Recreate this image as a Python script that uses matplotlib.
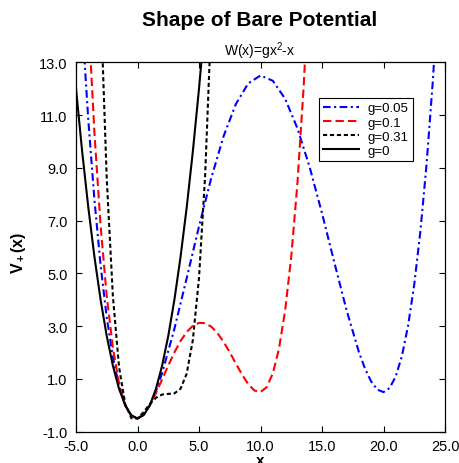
import matplotlib
matplotlib.use("Agg")
import matplotlib.pyplot as plt

plt.rcParams['font.family'] = ['Liberation Sans', 'DejaVu Sans']
plt.rcParams['mathtext.fontset'] = 'custom'
plt.rcParams['mathtext.rm'] = 'Liberation Sans'
plt.rcParams['mathtext.bf'] = 'Liberation Sans:bold'
plt.rcParams['mathtext.it'] = 'Liberation Sans:italic'
plt.rcParams['lines.scale_dashes'] = False

# ---- data ----
x_g005 = [-4.5, -4, -3.5, -3, -2.5, -2, -1.5, -1, -0.5, 0, 0.5, 1, 1.5, 2, 3, 4, 5, 6, 7, 8, 9, 10,
          11, 12, 13, 14, 15, 16, 17, 18, 18.5, 19, 19.5, 20, 20.5, 21, 21.5, 22, 22.5, 23, 23.5, 24, 24.5]
v_g005 = [14.47, 10.82, 7.78, 5.30, 3.33, 1.82, 0.725, 0.001, -0.394, -0.5, -0.356, 0.001, 0.538, 1.22,
          2.90, 4.82, 6.78, 8.62, 10.20, 11.42, 12.20, 12.5, 12.30, 11.62, 10.50, 9.02, 7.28, 5.42, 3.60,
          2.02, 1.388, 0.90, 0.594, 0.5, 0.656, 1.10, 1.875, 3.02, 4.58, 6.60, 9.13, 12.22, 15.92]

x_g01 = [-4, -3.5, -3, -2.5, -2, -1.5, -1, -0.5, 0, 0.5, 1, 1.5, 2, 2.5, 3, 3.5, 4, 4.5, 5, 5.5, 6,
         6.5, 7, 7.5, 8, 8.5, 9, 9.5, 10, 10.5, 11, 11.5, 12, 12.5, 13, 13.5, 14]
v_g01 = [14.78, 10.31, 6.805, 4.133, 2.18, 0.838, 0.005, -0.412, -0.5, -0.337, 0.005, 0.463, 0.98,
         1.508, 2.005, 2.438, 2.78, 3.013, 3.125, 3.113, 2.98, 2.738, 2.405, 2.008, 1.58, 1.163, 0.805,
         0.563, 0.5, 0.688, 1.205, 2.138, 3.58, 5.633, 8.405, 12.01, 16.58]

x_g031 = [-3, -2.5, -2, -1.5, -1, -0.5, 0, 0.5, 1, 1.5, 2, 2.5, 3, 3.5, 4, 4.5, 5, 5.5, 6]
v_g031 = [15.33, 8.571, 4.129, 1.45, 0.048, -0.488, -0.5, -0.256, 0.048, 0.287, 0.409, 0.433, 0.452,
          0.629, 1.20, 2.475, 4.83, 8.72, 14.67]

x_g0 = [-5, -4.5, -4, -3.5, -3, -2.5, -2, -1.5, -1, -0.5, 0, 0.5, 1, 1.5, 2, 2.5, 3, 3.5, 4, 4.5, 5, 5.5]
v_g0 = [12, 9.625, 7.5, 5.625, 4, 2.625, 1.5, 0.625, 0, -0.375, -0.5, -0.375, 0, 0.625, 1.5, 2.625,
        4, 5.625, 7.5, 9.625, 12, 14.625]

labels = ['g=0.05', 'g=0.1', 'g=0.31', 'g=0']
x_ticks = [-5.0, 0.0, 5.0, 10.0, 15.0, 20.0, 25.0]
y_ticks = [-1.0, 1.0, 3.0, 5.0, 7.0, 9.0, 11.0, 13.0]

W, H = 459, 464
fig = plt.figure(figsize=(W / 100, H / 100), dpi=100)
ax = fig.add_axes([76 / W, (H - 432.7) / H, 369 / W, 369.4 / H])

lw = 1.5
ax.plot(x_g005, v_g005, color='#0000ff', lw=lw, linestyle=(0, (5.5, 2.5, 1.5, 2.5)), label=labels[0])
ax.plot(x_g01, v_g01, color='#ff0000', lw=lw, linestyle=(0, (6, 3)), label=labels[1])
ax.plot(x_g031, v_g031, color='black', lw=lw, linestyle=(0, (3, 2)), label=labels[2])
ax.plot(x_g0, v_g0, color='black', lw=lw, linestyle='-', label=labels[3])

ax.set_xlim(-5, 25)
ax.set_ylim(-1, 13)
ax.set_xticks(x_ticks)
ax.set_yticks(y_ticks)
ax.set_xticklabels([f"{t:.1f}" for t in x_ticks])
ax.set_yticklabels([f"{t:.1f}" for t in y_ticks])
ax.tick_params(direction='in', length=4, width=0.8, top=True, right=True, labelsize=10.5)
ax.tick_params(axis='x', pad=5)
ax.tick_params(axis='y', pad=6)
for s in ax.spines.values():
    s.set_linewidth(0.9)

leg = ax.legend(loc='upper left', bbox_to_anchor=(0.659, 0.903), fontsize=9.5,
                frameon=True, fancybox=False, edgecolor='black', framealpha=1,
                handlelength=2.7, borderaxespad=0, borderpad=0.3, labelspacing=0.15,
                handletextpad=0.7)
leg.get_frame().set_linewidth(0.8)

fig.text(260 / W, 1 - 20 / H, 'Shape of Bare Potential', ha='center', va='center',
         fontsize=15, fontweight='bold')
fig.text(260 / W, 1 - 51 / H, r'W(x)=gx$^2$-x', ha='center', va='center', fontsize=10)
fig.text(19 / W, 1 - 253 / H, r'$\mathbf{V_+(x)}$', rotation=90, ha='center', va='center',
         fontsize=11.5)
fig.text(260 / W, 1 - 465 / H, 'x', ha='center', va='baseline', fontsize=11, fontweight='bold')

fig.savefig('out.png', dpi=100)
